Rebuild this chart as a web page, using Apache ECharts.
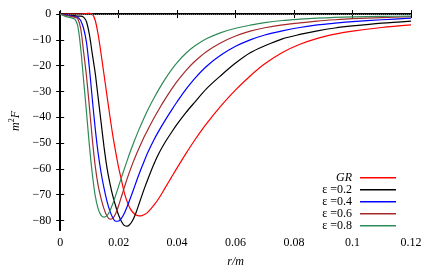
<!DOCTYPE html>
<html><head><meta charset="utf-8">
<script src="https://cdn.jsdelivr.net/npm/echarts@6/dist/echarts.min.js"></script>
<style>html,body{margin:0;padding:0;background:#fff}#c{width:436px;height:273px}</style>
</head><body><div id="c"></div>
<script>
const xs = [0, 0.002, 0.004, 0.005, 0.006, 0.007, 0.008, 0.009, 0.010, 0.011, 0.012, 0.013, 0.014, 0.015, 0.016, 0.017, 0.018, 0.019, 0.020, 0.021, 0.022, 0.023, 0.024, 0.025, 0.026, 0.027, 0.028, 0.029, 0.030, 0.032, 0.034, 0.036, 0.038, 0.040, 0.043, 0.046, 0.050, 0.055, 0.060, 0.065, 0.070, 0.076, 0.082, 0.088, 0.094, 0.100, 0.110, 0.120];
const gr    = [0, 0, 0, 0, 0, 0, 0.1, 0.2, 0.3, 0, -2.5, -8, -15.5, -23.5, -31.5, -39.5, -47, -53.5, -59.5, -64.5, -69.5, -73, -75.5, -77, -77.9, -78.2, -78.1, -77.6, -76.8, -74.2, -71, -67.2, -63.4, -59.6, -54.1, -48.9, -42.6, -35.6, -29.4, -24, -19.3, -14.9, -11.7, -9.4, -7.8, -6.6, -5.2, -4.2];
const eps02 = [0, -0.2, -0.5, -0.6, -0.8, -0.8, -1.2, -3, -8, -15.5, -23, -32.5, -42, -51.5, -59.5, -65.5, -70.5, -74.5, -78, -80.5, -82, -82.2, -81.3, -79.5, -76.8, -73.5, -70.2, -67, -64, -58.3, -53.5, -49.5, -46, -42.7, -38.2, -34.2, -29, -23.8, -19, -15, -12.3, -9.6, -7.9, -6.5, -5.4, -4.6, -3.5, -2.7];
const eps04 = [0, -0.3, -0.8, -1.0, -1.2, -2.5, -5.5, -11, -21, -33, -44.5, -54, -61.5, -67.5, -72.5, -76.3, -79, -80.3, -80.2, -79.1, -77.1, -74.4, -71.4, -68.3, -65.1, -62, -59.1, -56.3, -53.6, -48.9, -44.8, -41, -37.4, -34, -29.2, -25, -20.3, -15.9, -12.5, -10, -8.1, -6.5, -5.2, -4.2, -3.5, -2.9, -2.2, -1.6];
const eps06 = [0, -0.5, -1.0, -1.2, -1.8, -5.5, -14.5, -24, -36, -48.5, -59, -66.5, -71.5, -75.5, -78.3, -79.5, -79.2, -77.3, -74.2, -70.6, -67, -63.5, -60.3, -57.3, -54.5, -51.9, -49.4, -47, -44.8, -40.5, -36.5, -32.8, -29.3, -26.1, -21.9, -18.4, -14.6, -11.1, -8.5, -6.6, -5.3, -4.2, -3.4, -2.7, -2.2, -1.8, -1.4, -1.0];
const eps08 = [0, -1.0, -1.5, -2.0, -4.5, -13, -25.5, -38, -51, -62, -70.5, -75.5, -78, -78.7, -78.1, -76.3, -73.5, -70.2, -66.7, -63.2, -59.8, -56.5, -53.3, -50.3, -47.4, -44.6, -42, -39.5, -37.1, -32.7, -28.7, -25, -21.7, -18.8, -15.2, -12.4, -9.6, -7.2, -5.5, -4.3, -3.3, -2.5, -2.0, -1.6, -1.3, -1.1, -0.9, -0.8];
const seriesNames = ['GR', 'ε =0.2', 'ε =0.4', 'ε =0.6', 'ε =0.8'];
const seriesColors = ['#ff0000', '#000000', '#0000ff', '#a52a2a', '#2e8b57'];
const yTicks = [-80, -70, -60, -50, -40, -30, -20, -10, 0];
const xTicks = [0, 0.02, 0.04, 0.06, 0.08, 0.1, 0.12];

const font = 'Liberation Serif';
const allY = [gr, eps02, eps04, eps06, eps08];
const chart = echarts.init(document.getElementById('c'), null, {renderer: 'canvas'});
const fmtY = v => v < 0 ? '\u2212' + Math.abs(v) : String(v);
const fmtX = v => String(+v.toFixed(2));
const axLine = {show: true, lineStyle: {color: '#000', width: 2}};
const tick = {show: true, inside: true, length: 4, lineStyle: {color: '#000', width: 1}};

const series = allY.map((ys, i) => ({
  name: seriesNames[i], type: 'line', xAxisIndex: 0, yAxisIndex: 0,
  data: xs.map((x, j) => [x, ys[j]]),
  showSymbol: false, symbol: 'none', smooth: 0.3,
  lineStyle: {color: seriesColors[i], width: 1.2}, itemStyle: {color: seriesColors[i]},
  z: 3 + i
}));
series[0].markLine = {silent: true, symbol: 'none', label: {show: false},
  lineStyle: {color: '#888', type: [1, 1], width: 1}, data: [{yAxis: 0}]};

chart.setOption({
  animation: false,
  textStyle: {fontFamily: font},
  grid: {left: 58, top: 12, right: 25, bottom: 39, show: false},
  xAxis: [
    {type: 'value', min: 0, max: 0.12, position: 'bottom',
     axisLine: axLine, axisTick: Object.assign({customValues: xTicks}, tick), splitLine: {show: false},
     axisLabel: {customValues: xTicks, formatter: fmtX, color: '#000', fontSize: 12, fontFamily: font, margin: 7},
     name: 'r/m', nameLocation: 'middle', nameGap: 26,
     nameTextStyle: {fontStyle: 'italic', fontSize: 12, color: '#000', fontFamily: font}},
    {type: 'value', min: 0, max: 0.12, position: 'top',
     axisLine: axLine, axisTick: Object.assign({customValues: xTicks}, tick), splitLine: {show: false},
     axisLabel: {show: false}}
  ],
  yAxis: [
    {type: 'value', min: -83.7, max: 0.8, position: 'left',
     axisLine: axLine, axisTick: Object.assign({customValues: yTicks}, tick), splitLine: {show: false},
     axisLabel: {customValues: yTicks, formatter: fmtY, color: '#000', fontSize: 12, fontFamily: font, margin: 9},
     name: '{i|m}{s|2}{i|F}', nameLocation: 'middle', nameGap: 37, nameRotate: 90,
     nameTextStyle: {color: '#000', fontFamily: font,
       rich: {i: {fontStyle: 'italic', fontSize: 12, fontFamily: font, color: '#000'},
              s: {fontSize: 8, fontFamily: font, color: '#000', verticalAlign: 'top', padding: [0, 0, 7, 0]}}}},
    {type: 'value', min: -83.7, max: 0.8, position: 'right',
     axisLine: axLine, axisTick: Object.assign({customValues: yTicks}, tick), splitLine: {show: false},
     axisLabel: {show: false}}
  ],
  legend: {
    data: seriesNames, orient: 'vertical', right: 40, top: 171.8, align: 'right',
    icon: 'rect', itemWidth: 36, itemHeight: 1.5, itemGap: 0, padding: 0,
    formatter: n => n === 'GR' ? '{i|GR}' : '{n|' + n + '}',
    textStyle: {color: '#000', fontFamily: font, fontSize: 12, lineHeight: 11.8, padding: [0, 3, 0, 0],
      rich: {i: {fontStyle: 'italic', fontSize: 12, fontFamily: font, lineHeight: 11.8},
             n: {fontSize: 12, fontFamily: font, lineHeight: 11.8}}}
  },
  series: series
});
</script></body></html>
